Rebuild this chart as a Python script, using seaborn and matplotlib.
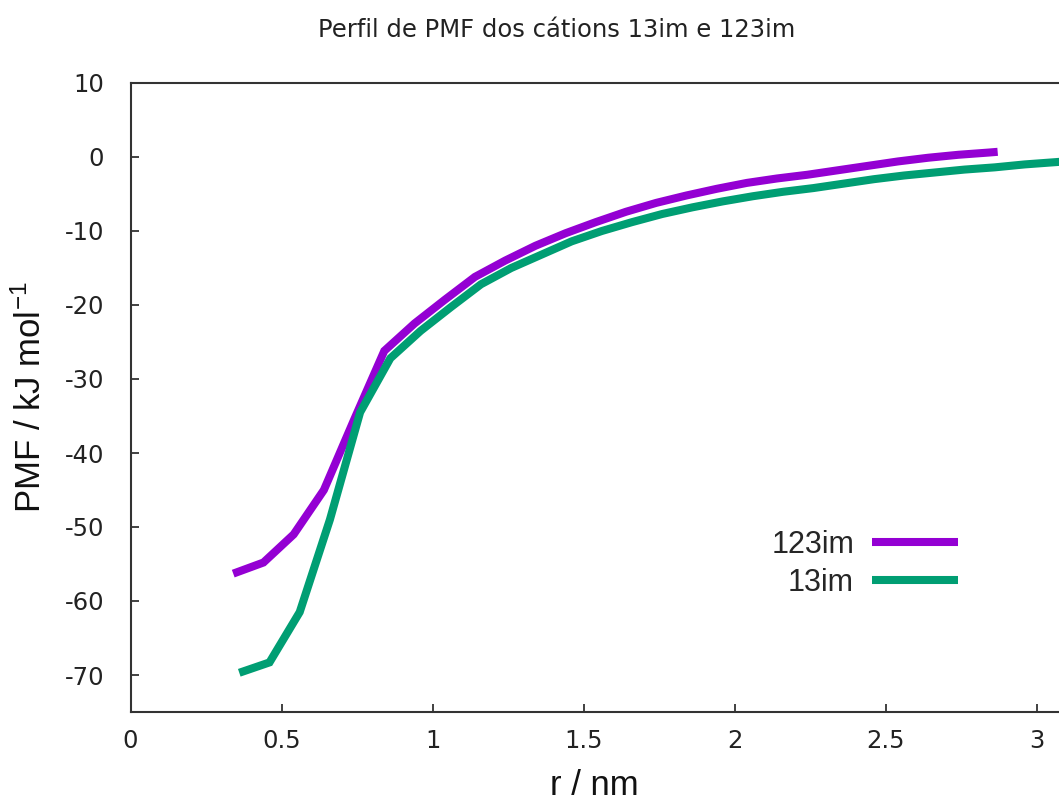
import numpy as np
import pandas as pd
import matplotlib
matplotlib.use("Agg")
import matplotlib.pyplot as plt
import seaborn as sns

# ---- data ----
r_123im = [0.34, 0.44, 0.54, 0.64, 0.74, 0.84, 0.94, 1.04, 1.14, 1.24, 1.34, 1.44,
           1.54, 1.64, 1.74, 1.84, 1.94, 2.04, 2.14, 2.24, 2.34, 2.44, 2.54, 2.64,
           2.74, 2.84, 2.87]
pmf_123im = [-56.3, -54.8, -51.0, -45.0, -35.5, -26.2, -22.5, -19.3, -16.2, -14.0, -12.0, -10.3,
             -8.8, -7.4, -6.2, -5.2, -4.3, -3.5, -2.9, -2.4, -1.8, -1.2, -0.6, -0.1,
             0.3, 0.6, 0.7]
r_13im = [0.36, 0.46, 0.56, 0.66, 0.76, 0.86, 0.96, 1.06, 1.16, 1.26, 1.36, 1.46,
          1.56, 1.66, 1.76, 1.86, 1.96, 2.06, 2.16, 2.26, 2.36, 2.46, 2.56, 2.66,
          2.76, 2.86, 2.96, 3.06, 3.16]
pmf_13im = [-69.7, -68.3, -61.5, -49.0, -34.5, -27.2, -23.5, -20.3, -17.2, -15.0, -13.2, -11.4,
            -10.0, -8.8, -7.7, -6.8, -6.0, -5.3, -4.7, -4.2, -3.6, -3.0, -2.5, -2.1,
            -1.7, -1.4, -1.0, -0.7, -0.4]
series_names = ["123im", "13im"]
series_colors = ["#9400D3", "#009E73"]
x_ticks = [0, 0.5, 1, 1.5, 2, 2.5, 3]
x_tick_labels = ["0", "0.5", "1", "1.5", "2", "2.5", "3"]
y_ticks = [10, 0, -10, -20, -30, -40, -50, -60, -70]
title = "Perfil de PMF dos cátions 13im e 123im"

df = pd.concat([
    pd.DataFrame({"r": r_123im, "pmf": pmf_123im, "serie": series_names[0]}),
    pd.DataFrame({"r": r_13im, "pmf": pmf_13im, "serie": series_names[1]}),
], ignore_index=True)

sns.set_style("ticks")
plt.rcParams["font.family"] = ["DejaVu Sans"]
plt.rcParams["mathtext.fontset"] = "custom"
plt.rcParams["mathtext.rm"] = "Liberation Sans"
plt.rcParams["mathtext.it"] = "Liberation Sans"

fig = plt.figure(figsize=(10.59, 8.05), dpi=100)
ax = fig.add_axes([130.5 / 1059, 1 - 712 / 805, 1 - 130.5 / 1059, (712 - 83) / 805])

sns.lineplot(data=df, x="r", y="pmf", hue="serie", palette=dict(zip(series_names, series_colors)),
             hue_order=series_names, linewidth=5.8, ax=ax, sort=False, estimator=None,
             solid_joinstyle="miter", solid_capstyle="butt")

ax.set_xlim(0, 3.073)
ax.set_ylim(-75, 10)
ax.set_xticks(x_ticks)
ax.set_xticklabels(x_tick_labels)
ax.set_yticks(y_ticks)
ax.set_yticklabels([str(v) for v in y_ticks])

for s in ["left", "bottom", "top"]:
    ax.spines[s].set_linewidth(1.5)
    ax.spines[s].set_color("#333333")
ax.spines["right"].set_visible(False)
ax.tick_params(axis="both", direction="in", length=5.5, width=1.3, color="#333333",
               labelsize=17.5, labelcolor="#222222")
ax.tick_params(axis="y", pad=19)
ax.tick_params(axis="x", pad=12)

ax.set_xlabel("r / nm", family="Liberation Sans", fontsize=25, labelpad=12, color="#111111")
ax.set_ylabel(r"PMF / kJ mol$\mathregular{^{-1}}$", family="Liberation Sans", fontsize=25,
              labelpad=12, color="#111111")

fig.text(557 / 1059, 1 - 30 / 805, title, ha="center", va="center", fontsize=17.5, color="#222222")

handles, labels = ax.get_legend_handles_labels()
ax.legend(handles=handles, labels=labels, loc="center right",
          bbox_to_anchor=(958 / 1059, 1 - 564 / 805), bbox_transform=fig.transFigure,
          frameon=False, markerfirst=False, prop={"family": "Liberation Sans", "size": 22},
          handlelength=2.8, handletextpad=0.6, labelspacing=0.27, borderpad=0, borderaxespad=0)

fig.savefig("out.png", dpi=100)
